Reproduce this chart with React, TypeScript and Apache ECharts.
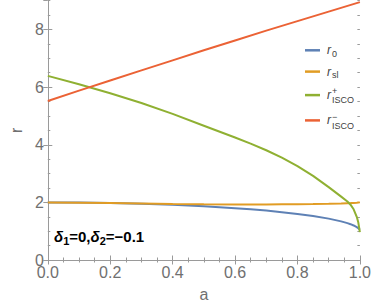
import React, { useEffect, useRef } from 'react';
import * as echarts from 'echarts';

// spin parameter a
const aGrid = [0, 0.1, 0.2, 0.3, 0.4, 0.5, 0.6, 0.65, 0.7, 0.75, 0.8, 0.85, 0.9, 0.94, 0.96, 0.97, 0.98, 0.99, 0.995, 1.0];
// r0 (blue)
const r0 = [2.0, 1.995, 1.98, 1.955, 1.917, 1.866, 1.8, 1.76, 1.714, 1.661, 1.6, 1.527, 1.436, 1.341, 1.28, 1.243, 1.199, 1.14, 1.1, 1.05];
// r_sl (orange)
const rSl = [2.0, 1.99, 1.975, 1.96, 1.945, 1.935, 1.93, 1.93, 1.93, 1.932, 1.935, 1.94, 1.95, 1.96, 1.97, 1.975, 1.982, 1.99, 1.995, 2.0];
// r_ISCO^+ (green)
const rIscoPlus = [6.39, 6.1, 5.79, 5.45, 5.07, 4.66, 4.25, 4.04, 3.81, 3.55, 3.26, 2.92, 2.53, 2.2, 2.03, 1.92, 1.76, 1.5, 1.3, 0.97];
// r_ISCO^- (red)
const aRetro = [0, 0.1, 0.2, 0.3, 0.4, 0.5, 0.6, 0.7, 0.8, 0.9, 1.0];
const rIscoMinus = [5.52, 5.88, 6.23, 6.58, 6.93, 7.28, 7.62, 7.96, 8.29, 8.62, 8.95];

const seriesNames = ['r0', 'rsl', 'rISCO+', 'rISCO−'];
const legendLabels = ['{r|r}{s|0}', '{r|r}{s|sl}', '{r|r}{p|+}{q|ISCO}', '{r|r}{p|−}{q|ISCO}'];
const colors = ['#5E81B5', '#E19C24', '#8FB032', '#EB6235'];
const annotation = '{d|δ}{s|1}{t|=0,}{d|δ}{s|2}{t|=−0.1}';

const FONT = 'Liberation Sans, Arial, sans-serif';
const AXIS_COLOR = '#9a9a9a';
const LABEL_COLOR = '#707070';

export default function App() {
  const ref = useRef<HTMLDivElement>(null);
  useEffect(() => {
    if (!ref.current) return;
    const chart = echarts.init(ref.current, null, { renderer: 'svg' });
    const pairs = (xs: number[], ys: number[]) => xs.map((x, i) => [x, ys[i]]);
    const dataSets = [pairs(aGrid, r0), pairs(aGrid, rSl), pairs(aGrid, rIscoPlus), pairs(aRetro, rIscoMinus)];

    const baseX = {
      type: 'value', min: 0, max: 1, interval: 0.2,
      axisLine: { show: true, lineStyle: { color: AXIS_COLOR, width: 1 } },
      axisTick: { show: true, inside: true, length: 4.5, lineStyle: { color: AXIS_COLOR } },
      minorTick: { show: true, splitNumber: 4, length: 2.5, lineStyle: { color: AXIS_COLOR } },
      splitLine: { show: false }, minorSplitLine: { show: false },
    };
    const baseY = (pos: string, interval: number, len: number, lineShow: boolean) => ({
      type: 'value', min: 0, max: 9, interval, position: pos,
      axisLine: { show: lineShow, lineStyle: { color: AXIS_COLOR, width: 1 } },
      axisTick: { show: true, inside: true, length: len, lineStyle: { color: AXIS_COLOR } },
      axisLabel: { show: false },
      splitLine: { show: false },
    });

    const tokenBase = { fontFamily: FONT, color: '#404040' };

    chart.setOption({
      animation: false,
      grid: { left: 35.7, right: 11.7, top: 0.7, bottom: 45.7, containLabel: false },
      xAxis: [
        {
          ...baseX, position: 'bottom',
          name: 'a', nameLocation: 'middle', nameGap: 26,
          nameTextStyle: { color: LABEL_COLOR, fontSize: 16, fontFamily: FONT },
          axisLabel: { show: true, color: LABEL_COLOR, fontSize: 16, fontFamily: FONT, margin: 6.7, lineHeight: 12,
            formatter: (v: number) => v.toFixed(1) },
        },
        { ...baseX, position: 'top', axisLabel: { show: false } },
      ],
      yAxis: [
        {
          ...baseY('left', 2, 4.5, true),
          name: 'r', nameLocation: 'middle', nameGap: 17, nameRotate: 90,
          nameTextStyle: { color: LABEL_COLOR, fontSize: 16, fontFamily: FONT },
          axisLabel: { show: true, color: LABEL_COLOR, fontSize: 16, fontFamily: FONT, margin: 4, lineHeight: 12,
            showMaxLabel: false, formatter: (v: number) => String(v) },
        },
        baseY('right', 2, 4.5, true),
        baseY('left', 0.5, 2.5, false),
        baseY('right', 0.5, 2.5, false),
      ],
      legend: {
        orient: 'vertical', left: 305, top: 44.3, padding: 0, itemGap: 7.3,
        itemWidth: 15, itemHeight: 2.5, icon: 'rect',
        data: seriesNames,
        formatter: (n: string) => legendLabels[seriesNames.indexOf(n)],
        textStyle: {
          ...tokenBase, fontSize: 12,
          rich: {
            r: { ...tokenBase, fontSize: 12, fontStyle: 'italic', lineHeight: 18, padding: [0, 1, 0, 2] },
            s: { ...tokenBase, fontSize: 9, height: 11, verticalAlign: 'bottom' },
            q: { ...tokenBase, fontSize: 9, height: 7.4, verticalAlign: 'bottom' },
            p: { ...tokenBase, fontSize: 9, height: 10.6, verticalAlign: 'top', width: 0 },
          },
        },
      },
      graphic: [
        {
          type: 'text', x: 54, y: 236, silent: true,
          style: {
            text: annotation, verticalAlign: 'middle', align: 'left', fill: '#000',
            fontFamily: FONT, fontSize: 15, fontWeight: 'bold',
            rich: {
              t: { fontFamily: FONT, fontSize: 15, fontWeight: 'bold', lineHeight: 20, fill: '#000' },
              d: { fontFamily: FONT, fontSize: 15, fontWeight: 'bold', fontStyle: 'italic', lineHeight: 20, fill: '#000' },
              s: { fontFamily: FONT, fontSize: 11, fontWeight: 'bold', height: 10, verticalAlign: 'bottom', fill: '#000' },
            },
          },
        },
      ],
      series: seriesNames.map((name, i) => ({
        name, type: 'line', xAxisIndex: 0, yAxisIndex: 0,
        data: dataSets[i], showSymbol: false, symbol: 'none',
        smooth: false,
        color: colors[i],
        lineStyle: { color: colors[i], width: 2 },
        itemStyle: { color: colors[i] },
        z: 2 + i,
      })),
    });
    return () => chart.dispose();
  }, []);
  return <div ref={ref} style={{ position: 'absolute', left: 0, top: 0, width: 374, height: 307 }} />;
}
